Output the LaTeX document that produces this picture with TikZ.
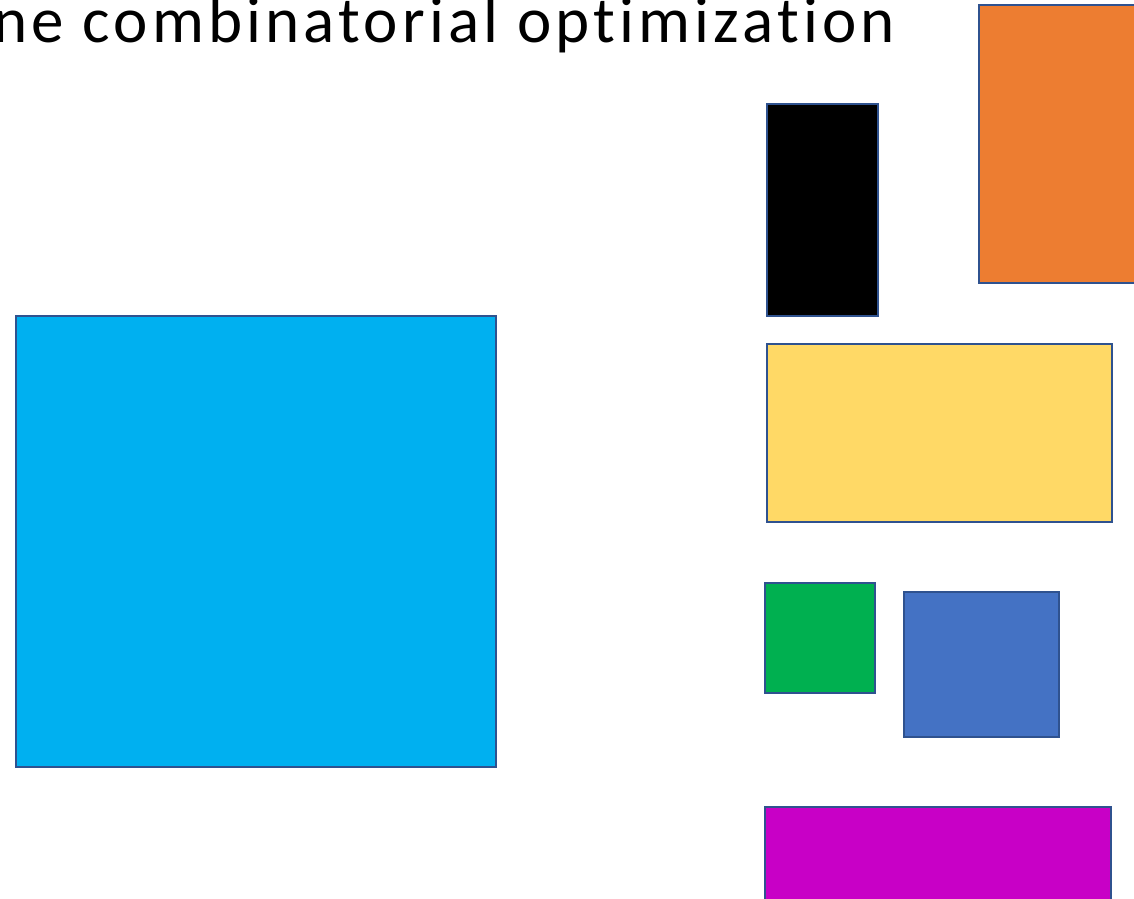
\documentclass[tikz,border=0pt]{standalone}
\usepackage{fontspec}
\setmainfont{Carlito}
\newfontfamily\titlefont[LetterSpace=6.4,Ligatures=NoCommon]{Carlito}
\definecolor{edgeblue}{HTML}{2F528F}
\definecolor{skyfill}{HTML}{00B0F0}
\definecolor{orangefill}{HTML}{ED7D31}
\definecolor{yellowfill}{HTML}{FFD966}
\definecolor{greenfill}{HTML}{00B050}
\definecolor{bluefill}{HTML}{4472C4}
\definecolor{purplefill}{HTML}{C800C6}
\begin{document}
\begin{tikzpicture}[x=1pt,y=-1pt,
  block/.style={rectangle,draw=edgeblue,line width=2pt,anchor=north west,inner sep=0pt,outer sep=0pt}]
\clip (0,0) rectangle (1134,898);
\fill[white] (0,0) rectangle (1134,898);

% Title (cut off at the left)
\node[anchor=base west,inner sep=0pt,font=\titlefont\fontsize{65}{72}\selectfont] (title) at (-7,42) {ne combinatorial optimization};

% Big square
\node[block,fill=skyfill,minimum width=480pt,minimum height=451pt] (big) at (16,316) {};

% Small pieces
\node[block,fill=black,minimum width=111pt,minimum height=212pt] (tall) at (767,104) {};
\node[block,fill=orangefill,minimum width=160pt,minimum height=278pt] (orange) at (979,5) {};
\node[block,fill=yellowfill,minimum width=345pt,minimum height=178pt] (wide) at (767,344) {};
\node[block,fill=greenfill,minimum width=110pt,minimum height=110pt] (green) at (765,583) {};
\node[block,fill=bluefill,minimum width=155pt,minimum height=145pt] (blue) at (904,592) {};
\node[block,fill=purplefill,minimum width=346pt,minimum height=120pt] (purple) at (765,807) {};

\end{tikzpicture}
\end{document}
